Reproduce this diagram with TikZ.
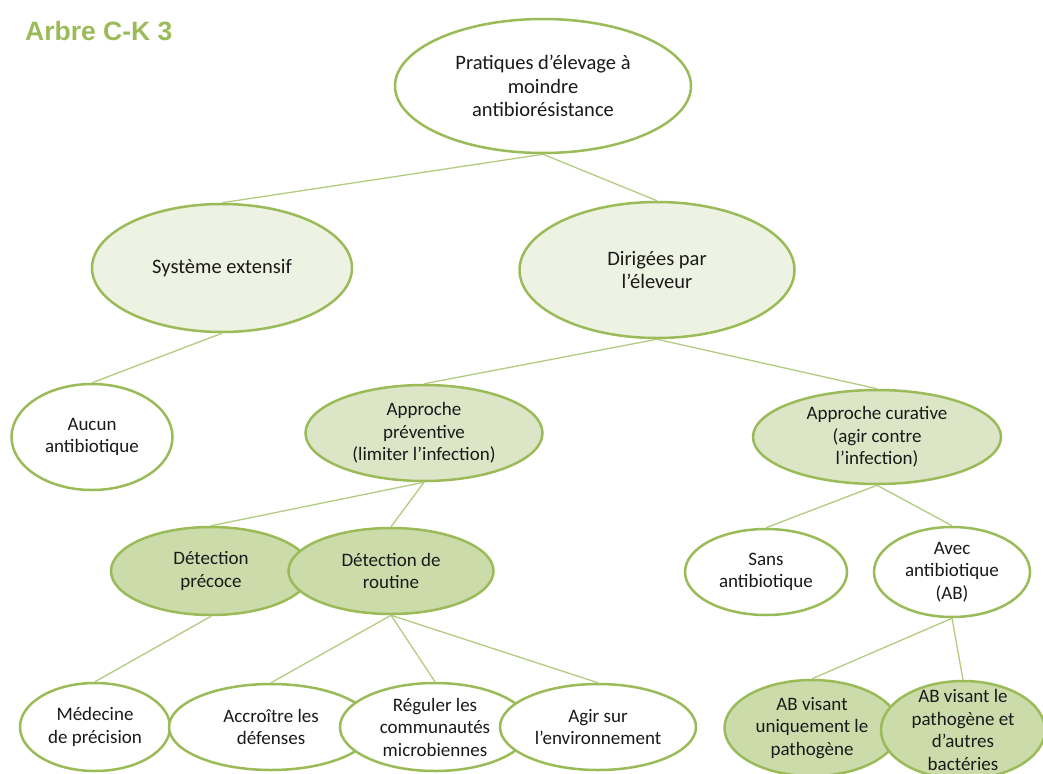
\documentclass[tikz,border=0pt]{standalone}
\usepackage{fontspec}
\setmainfont{Carlito}
\newfontfamily\titlefont{Liberation Sans}
\usepackage{xcolor}
\usepackage{tikz}
\usetikzlibrary{shapes.geometric}
\definecolor{ckline}{HTML}{9BBB59}
\definecolor{ckwire}{HTML}{B3CB80}
\definecolor{ckfilla}{HTML}{EDF2E2}
\definecolor{ckfillb}{HTML}{DCE6C7}
\definecolor{ckfillc}{HTML}{CCDBAA}
\definecolor{cktext}{HTML}{1A1A1A}
\tikzset{
  bub/.style    = {draw=ckline, ellipse, line width=2.5pt, fill=white, align=center,
                   inner sep=0pt, text=cktext, font=\fontsize{19}{22.5}\selectfont},
  bigbub/.style = {bub, font=\fontsize{20.5}{23.5}\selectfont},
  lvla/.style   = {fill=ckfilla},
  lvlb/.style   = {fill=ckfillb},
  lvlc/.style   = {fill=ckfillc},
  link/.style   = {draw=ckwire, line width=1.3pt},
  ttl/.style    = {font=\titlefont\bfseries\fontsize{26.5}{30}\selectfont,
                   text=ckline, anchor=base west, inner sep=0pt}
}

\begin{document}
\begin{tikzpicture}[x=1pt, y=1pt]
\useasboundingbox (0,0) rectangle (1043,-773);

% ---------- title ----------
\node[ttl] (title) at (25,-41) {Arbre C-K 3};

% ---------- root ----------
\node[bigbub, minimum width=296pt, minimum height=134pt] (root) at (543,-86)
      {Pratiques d’élevage à\\moindre\\antibiorésistance};

% ---------- first level ----------
\node[bigbub, lvla, minimum width=260pt, minimum height=128pt] (syst) at (222,-268)
      {Système extensif};
\node[bigbub, lvla, minimum width=275pt, minimum height=136pt] (dirig) at (657,-270)
      {Dirigées par\\l’éleveur};

% ---------- second level ----------
\node[bub, minimum width=161pt, minimum height=106pt] (aucun) at (92,-437)
      {Aucun\\antibiotique};
\node[bub, lvlb, minimum width=237pt, minimum height=96pt] (prev) at (424,-433)
      {Approche\\préventive\\(limiter l’infection)};
\node[bub, lvlb, minimum width=248pt, minimum height=94pt] (cura) at (877,-437)
      {Approche curative\\(agir contre\\l’infection)};

% ---------- third level ----------
\node[bub, lvlc, minimum width=200pt, minimum height=88pt] (precoce) at (211,-571)
      {Détection\\précoce};
\node[bub, lvlc, minimum width=205pt, minimum height=86pt] (routine) at (391,-571)
      {Détection de\\routine};
\node[bub, minimum width=162pt, minimum height=86pt] (sans) at (766,-572)
      {Sans\\antibiotique};
\node[bub, minimum width=156pt, minimum height=90pt] (avec) at (952,-572)
      {Avec\\antibiotique\\(AB)};

% ---------- leaves ----------
\node[bub, minimum width=150pt, minimum height=88pt] (medec) at (95,-727)
      {Médecine\\de précision};
\node[bub, minimum width=204pt, minimum height=86pt] (accr) at (271,-727)
      {Accroître les\\défenses};
\node[bub, minimum width=190pt, minimum height=88pt] (regul) at (435,-727)
      {Réguler les\\communautés\\microbiennes};
\node[bub, minimum width=196pt, minimum height=86pt] (agir) at (598,-727)
      {Agir sur\\l’environnement};
\node[bub, lvlc, minimum width=175pt, minimum height=96pt] (abun) at (812,-728)
      {AB visant\\uniquement le\\pathogène};
\node[bub, lvlc, inner ysep=-12pt, minimum width=164pt, minimum height=98pt] (abaut) at (963,-730)
      {AB visant le\\pathogène et\\d’autres\\bactéries};

% ---------- connectors (parent bottom to child top) ----------
\foreach \a/\b in {root/syst, root/dirig, syst/aucun, dirig/prev, dirig/cura,
                   prev/precoce, prev/routine, cura/sans, cura/avec,
                   precoce/medec, routine/accr, routine/regul, routine/agir,
                   avec/abun, avec/abaut} {
  \draw[link] (\a.south) -- (\b.north);
}

\end{tikzpicture}
\end{document}
